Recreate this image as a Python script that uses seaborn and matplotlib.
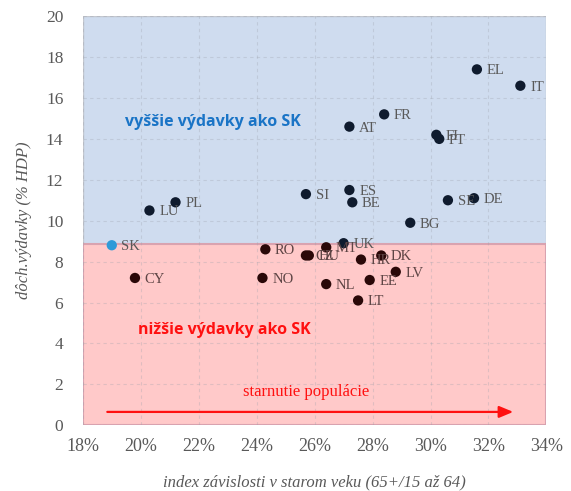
import pandas as pd
import matplotlib.pyplot as plt
import seaborn as sns
from matplotlib.ticker import FuncFormatter

# Data
countries = ['EL', 'IT', 'FR', 'AT', 'FI', 'PT', 'SI', 'ES', 'BE', 'SE', 'DE', 'BG',
             'LU', 'PL', 'SK', 'CY', 'RO', 'NO', 'CZ', 'HU', 'MT', 'UK', 'DK', 'HR',
             'LV', 'EE', 'NL', 'LT']
dependency = [31.6, 33.1, 28.4, 27.2, 30.2, 30.3, 25.7, 27.2, 27.3, 30.6, 31.5, 29.3,
              20.3, 21.2, 19.0, 19.8, 24.3, 24.2, 25.7, 25.8, 26.4, 27.0, 28.3, 27.6,
              28.8, 27.9, 26.4, 27.5]
pension = [17.4, 16.6, 15.2, 14.6, 14.2, 14.0, 11.3, 11.5, 10.9, 11.0, 11.1, 9.9,
           10.5, 10.9, 8.8, 7.2, 8.6, 7.2, 8.3, 8.3, 8.7, 8.9, 8.3, 8.1,
           7.5, 7.1, 6.9, 6.1]

sk_level = 8.85

df = pd.DataFrame({'country': countries, 'x': dependency, 'y': pension})
df['group'] = ['SK' if c == 'SK' else ('high' if y > sk_level else 'low')
               for c, y in zip(df['country'], df['y'])]

palette = {'high': '#0f1b2e', 'low': '#2a0808', 'SK': '#2e9ad8'}
label_colors = {'high': '#595959', 'low': '#5e4545', 'SK': '#595959'}

sns.set_style('white')
plt.rcParams['font.family'] = ['Liberation Serif', 'DejaVu Serif']

fig = plt.figure(figsize=(5.71, 4.91), dpi=100)
ax = fig.add_axes([0.145, 0.134, 0.812, 0.833])

# Shaded regions
ax.axhspan(sk_level, 20, facecolor='#cfdcef', edgecolor='#c4c8d0', linewidth=1, zorder=0)
ax.axhspan(0, sk_level, facecolor='#ffc9c9', edgecolor='#d9a3b0', linewidth=1.5, zorder=0)

sns.scatterplot(data=df, x='x', y='y', hue='group', palette=palette, s=55,
                edgecolor='none', legend=False, ax=ax, zorder=3)

for _, r in df.iterrows():
    ax.annotate(r['country'], (r['x'], r['y']), xytext=(7, -1), textcoords='offset points',
                va='center', ha='left', fontsize=10.5, color=label_colors[r['group']], zorder=4)

# Region labels and arrow
ax.text(22.5, 14.85, 'vyššie výdavky ako SK', color='#1a74c6', fontsize=11.5,
        fontweight='bold', family='Open Sans', ha='center', va='center')
ax.text(22.9, 4.65, 'nižšie výdavky ako SK', color='#ff1010', fontsize=11.5,
        fontweight='bold', family='Open Sans', ha='center', va='center')
ax.text(25.7, 1.6, 'starnutie populácie', color='#ff1010', fontsize=12,
        ha='center', va='center')
ax.annotate('', xy=(32.95, 0.65), xytext=(18.75, 0.65),
            arrowprops=dict(arrowstyle='-|>,head_length=0.6,head_width=0.25',
                            color='#ff1010', lw=1.6, mutation_scale=14))

ax.set_xlim(18, 34)
ax.set_ylim(0, 20)
ax.set_xticks(range(18, 35, 2))
ax.set_yticks(range(0, 21, 2))
ax.xaxis.set_major_formatter(FuncFormatter(lambda v, p: f'{v:.0f}%'))
ax.grid(True, linestyle=(0, (3, 3)), color='#9aa0aa', alpha=0.3, linewidth=0.8)
ax.set_axisbelow(True)
for s in ax.spines.values():
    s.set_visible(False)
ax.tick_params(axis='x', length=0, pad=9, labelsize=13, labelcolor='#595959')
ax.tick_params(axis='y', length=0, pad=14, labelsize=12.5, labelcolor='#595959')

ax.set_xlabel('index závislosti v starom veku (65+/15 až 64)', fontsize=12,
              style='italic', color='#595959', labelpad=14)
ax.set_ylabel('dôch.výdavky (% HDP)', fontsize=12, style='italic', color='#595959',
              labelpad=10)

fig.savefig('out.png', dpi=100)
